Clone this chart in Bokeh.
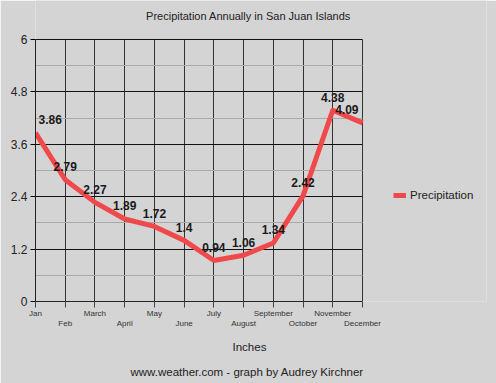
from bokeh.plotting import figure
from bokeh.models import (FixedTicker, LinearAxis, Title, Label, Legend,
                          LegendItem, ColumnDataSource)
from bokeh.core.properties import value
from bokeh.embed import file_html
from bokeh.resources import INLINE

months = ["Jan", "Feb", "March", "April", "May", "June", "July", "August",
          "September", "October", "November", "December"]
precip = [3.86, 2.79, 2.27, 1.89, 1.72, 1.4, 0.94, 1.06, 1.34, 2.42, 4.38, 4.09]
y_ticks = [0, 1.2, 2.4, 3.6, 4.8, 6]
y_minor = [0.6, 1.8, 3.0, 4.2, 5.4]
title_text = "Precipitation Annually in San Juan Islands"
axis_text = "Inches"
source_text = "www.weather.com - graph by Audrey Kirchner"
series_name = "Precipitation"

BG = "#d4d4d4"
RED = "#f0494b"
FONT = "Liberation Sans"
TXT = "#222222"

W, H = 496, 383
LEFT, RIGHT, BOTTOM = 35, 10, 82
CHART_W, CHART_H = 327, 262  # pixel size of the gridded area

idx = list(range(len(months)))
n = len(months)
last = n - 1
y_max = y_ticks[-1]
x_end = last * (W - LEFT - RIGHT) / CHART_W   # room for the legend
y_end = y_max * (H - BOTTOM) / CHART_H         # room for the title

aligns = ["left"] + ["center"] * (n - 2) + ["right"]
xoffs = [3] + [0] * (n - 2) + [-4]
src = ColumnDataSource(dict(x=idx, y=precip, lab=[str(v) for v in precip],
                            al=aligns, xo=xoffs))

p = figure(width=W, height=H, x_range=(0, x_end), y_range=(0, y_end),
           output_backend="svg", toolbar_location=None,
           min_border_left=LEFT, min_border_right=RIGHT, min_border_top=0,
           min_border_bottom=BOTTOM)
p.background_fill_color = BG
p.border_fill_color = BG
p.outline_line_color = None

# x axis, first row of labels
xa = p.xaxis[0]
xa.bounds = (0, last)
xa.ticker = FixedTicker(ticks=idx)
xa.major_label_overrides = {i: (months[i] if i % 2 == 0 else "") for i in idx}
xa.major_label_text_font = FONT
xa.major_label_text_font_size = "8px"
xa.major_label_text_color = "#333333"
xa.major_tick_out = 6
xa.major_tick_in = 0
xa.minor_tick_line_color = None
xa.major_label_standoff = 1
xa.axis_line_color = "#222222"
xa.major_tick_line_color = "#444444"

# x axis, second (staggered) row of labels
xa2 = LinearAxis(ticker=FixedTicker(ticks=[i for i in idx if i % 2 == 1]),
                 major_label_overrides={i: months[i] for i in idx if i % 2 == 1})
xa2.bounds = (0, last)
xa2.axis_line_color = None
xa2.major_tick_line_color = None
xa2.minor_tick_line_color = None
xa2.major_tick_out = 0
xa2.major_tick_in = 0
xa2.major_label_standoff = -2
xa2.major_label_text_font = FONT
xa2.major_label_text_font_size = "8px"
xa2.major_label_text_color = "#333333"
p.add_layout(xa2, "below")

ya = p.yaxis[0]
ya.bounds = (0, y_max)
ya.ticker = FixedTicker(ticks=y_ticks, minor_ticks=y_minor)
ya.major_label_overrides = {0: "0", 6: "6"}
ya.major_label_text_font = FONT
ya.major_label_text_font_size = "12px"
ya.major_label_text_color = TXT
ya.major_tick_out = 5
ya.major_tick_in = 0
ya.minor_tick_line_color = None
ya.major_label_standoff = 3
ya.axis_line_color = "#222222"

p.xgrid.ticker = FixedTicker(ticks=idx)
p.xgrid.grid_line_color = "#333333"
p.ygrid.ticker = FixedTicker(ticks=y_ticks, minor_ticks=y_minor)
p.ygrid.grid_line_color = "#111111"
p.ygrid.minor_grid_line_color = "#a9a9a9"
try:
    p.xgrid.cross_bounds = (0, y_max)
    p.ygrid.cross_bounds = (0, last)
except AttributeError:
    pass

line = p.line("x", "y", source=src, line_color=RED, line_width=5,
              line_join="round")
p.text("x", "y", text="lab", source=src, text_align="al", x_offset="xo",
       y_offset=-13, text_baseline="middle", text_font=value(FONT),
       text_font_size="12px", text_font_style="bold", text_color="#1a1a1a")

legend = Legend(items=[LegendItem(label=series_name, renderers=[line])],
                location=(358, 100), glyph_width=13, glyph_height=10,
                label_standoff=4, padding=0, margin=0, spacing=0,
                border_line_color=None, background_fill_alpha=0,
                label_text_font=FONT, label_text_font_size="11.5px",
                label_text_color=TXT)
p.add_layout(legend)

p.add_layout(Label(x=213, y=286, x_units="screen", y_units="screen",
                   text=title_text, text_align="center",
                   text_baseline="middle", text_font=FONT,
                   text_font_size="11px", text_color=TXT))
p.add_layout(Title(text=axis_text, align="left", offset=197, standoff=17,
                   text_font=FONT, text_font_size="11.5px",
                   text_font_style="normal", text_color=TXT), "below")
p.add_layout(Title(text=source_text, align="left", offset=95, standoff=4,
                   text_font=FONT, text_font_size="11.5px",
                   text_font_style="normal", text_color=TXT), "below")

html = file_html(p, INLINE)
html = html.replace("<body>", '<body style="background:%s">' % BG, 1)
open("out.html", "w").write(html)
